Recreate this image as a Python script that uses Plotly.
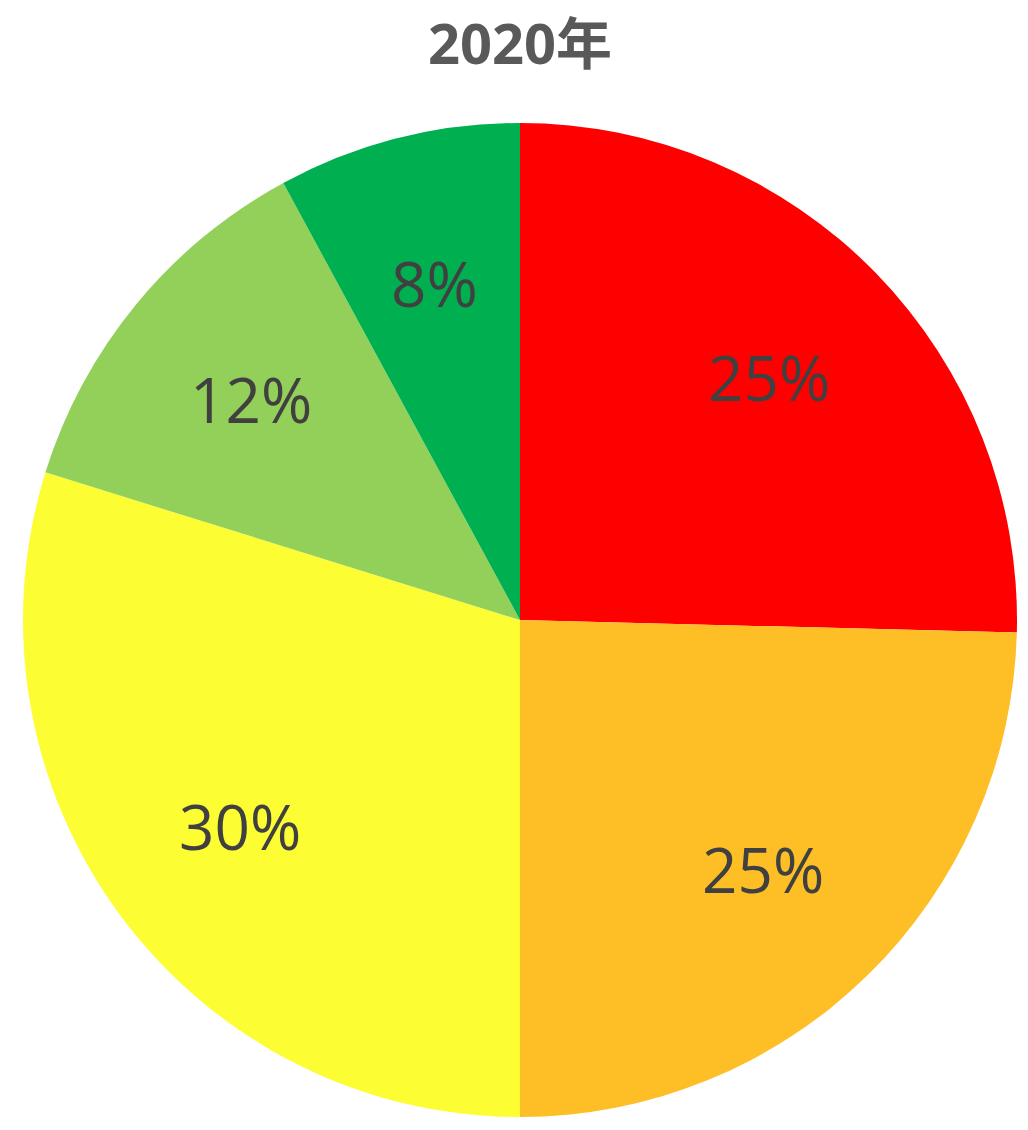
import math
import plotly.graph_objects as go

categories = ["A", "B", "C", "D", "E"]
values = [25.4, 24.6, 29.8, 12.3, 7.9]
colors = ["#FF0000", "#FEBE26", "#FDFD33", "#92D05A", "#00B050"]
title_text = "2020年"

fig = go.Figure(go.Pie(
    labels=categories,
    values=values,
    sort=False,
    direction="clockwise",
    rotation=0,
    marker=dict(colors=colors, line=dict(width=0)),
    textinfo="none",
    hoverinfo="label+percent",
    showlegend=False,
))

# data labels placed at each slice's mid-angle (computed from the values)
total = sum(values)
label_radius = 0.70
annotations = []
cum = 0.0
for v in values:
    mid = (cum + v / 2) / total * 2 * math.pi
    cum += v
    annotations.append(dict(
        x=0.5 + 0.5 * label_radius * math.sin(mid),
        y=0.5 + 0.5 * label_radius * math.cos(mid),
        xref="paper", yref="paper", showarrow=False,
        text=f"{round(v / total * 100)}%",
        font=dict(family="Open Sans", size=62, color="#404040"),
        xanchor="center", yanchor="middle",
    ))

fig.update_layout(
    width=1028, height=1130,
    margin=dict(l=15, r=19, t=115, b=21),
    paper_bgcolor="white",
    plot_bgcolor="white",
    title=dict(text="<b>" + title_text + "</b>", x=(512) / 1028, xanchor="center",
               y=1 - 36 / 1130, yanchor="middle",
               font=dict(family="Open Sans, Noto Sans CJK JP", size=56, color="#595959")),
    annotations=annotations,
)

fig.write_html("out.html")
